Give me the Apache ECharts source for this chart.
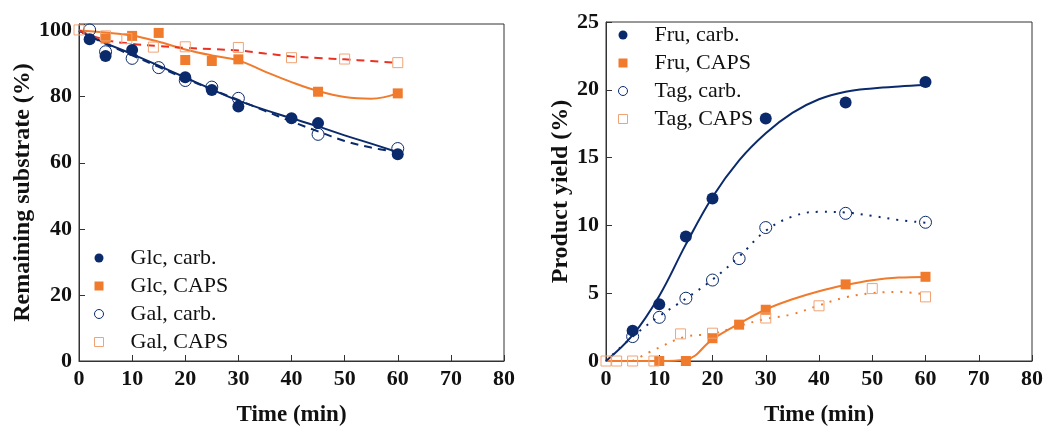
<!DOCTYPE html>
<html>
<head>
<meta charset="utf-8">
<script src="https://cdn.jsdelivr.net/npm/echarts@6/dist/echarts.min.js"></script>
<style>
  html, body { margin: 0; padding: 0; background: #fff; }
  #chart { width: 1046px; height: 432px; }
</style>
</head>
<body>
<div id="chart"></div>
<script>
// measured points, left panel (remaining substrate %)
const glcCarb = [[2, 97.4], [5, 92.3], [10, 94.1], [20, 85.9], [25, 82.0], [30, 77.0], [40, 73.5], [45, 72.0], [60, 62.6]];
const glcCaps = [[5, 97.6], [10, 98.4], [15, 99.3], [20, 91.1], [25, 90.8], [30, 91.3], [45, 81.5], [60, 81.0]];
const galCarb = [[2, 100.2], [5, 93.6], [10, 91.6], [15, 88.8], [20, 84.9], [25, 82.9], [30, 79.5], [45, 68.6], [60, 64.3]];
const galCaps = [[0, 100.2], [5, 98.4], [9, 97.6], [14, 95.0], [20, 95.1], [30, 94.9], [40, 91.8], [50, 91.4], [60, 90.3]];

// fitted trend lines
const glcCarbFit = [[0, 100], [5, 96.2], [10, 92.9], [15, 89.4], [20, 85.8], [25, 82.2], [30, 78.8], [35, 76.0], [40, 73.5], [45, 71.0], [50, 68.3], [55, 65.8], [60, 63.2]];
const glcCapsFit = [[0, 100], [5, 99.4], [10, 98.5], [15, 96.6], [20, 94.3], [25, 92.5], [30, 91.0], [35, 87.6], [40, 84.4], [45, 81.7], [50, 79.9], [55, 79.4], [60, 81.0]];
const galCarbFit = [[0, 100], [5, 96.0], [10, 92.5], [15, 89.0], [20, 85.5], [25, 82.2], [30, 79.0], [35, 75.7], [40, 72.5], [45, 69.5], [50, 66.6], [55, 64.6], [60, 63.2]];
const galCapsFit = [[0, 100], [5, 97.2], [10, 96.0], [15, 95.3], [20, 94.8], [25, 94.4], [30, 94.0], [35, 93.1], [40, 92.2], [45, 91.7], [50, 91.3], [55, 90.8], [60, 90.2]];

// measured points, right panel (product yield %)
const fruCarb = [[5, 2.24], [10, 4.19], [15, 9.19], [20, 11.99], [30, 17.89], [45, 19.06], [60, 20.57]];
const fruCaps = [[10, 0], [15, 0], [20, 1.68], [25, 2.68], [30, 3.78], [45, 5.65], [60, 6.21]];
const tagCarb = [[5, 1.80], [10, 3.22], [15, 4.63], [20, 5.97], [25, 7.55], [30, 9.84], [45, 10.89], [60, 10.23]];
const tagCaps = [[0, 0], [2, 0], [5, 0], [9, 0], [14, 2.0], [20, 2.05], [30, 3.17], [40, 4.07], [50, 5.34], [60, 4.73]];

// fitted trend lines
const fruCarbFit = [[0, 0], [5, 1.9], [10, 4.8], [15, 8.6], [20, 12.1], [25, 14.8], [30, 16.8], [35, 18.3], [40, 19.3], [45, 19.85], [50, 20.1], [55, 20.25], [60, 20.35]];
const fruCapsFit = [[0, 0], [5, 0], [10, 0], [15, 0.1], [20, 1.6], [25, 2.75], [30, 3.8], [35, 4.55], [40, 5.15], [45, 5.6], [50, 5.95], [55, 6.15], [60, 6.2]];
const tagCarbFit = [[0, 0], [5, 1.8], [10, 3.3], [15, 4.6], [20, 6.0], [25, 7.7], [30, 9.6], [35, 10.65], [40, 11.0], [45, 10.95], [50, 10.7], [55, 10.4], [60, 10.2]];
const tagCapsFit = [[5, 0], [10, 1.0], [15, 1.8], [20, 2.0], [25, 2.6], [30, 3.1], [35, 3.45], [40, 4.1], [45, 4.7], [50, 5.0], [55, 5.1], [60, 4.9]];

const leftNames = ["Glc, carb.", "Glc, CAPS", "Gal, carb.", "Gal, CAPS"];
const rightNames = ["Fru, carb.", "Fru, CAPS", "Tag, carb.", "Tag, CAPS"];
const xTicks = [0, 10, 20, 30, 40, 50, 60, 70, 80];
const leftYTicks = [0, 20, 40, 60, 80, 100];
const rightYTicks = [0, 5, 10, 15, 20, 25];

const NAVY = "#0b2a6c";
const ORANGE = "#f07b2c";
const LIGHT = "#f0a476";
const RED = "#ec3122";
const SERIF = "Liberation Serif";

const chart = echarts.init(document.getElementById("chart"));

function xAxis(idx) {
  return {
    type: "value", gridIndex: idx, min: 0, max: 80, interval: 10,
    name: "Time (min)", nameLocation: "middle", nameGap: 43,
    nameTextStyle: { fontFamily: SERIF, fontWeight: "bold", fontSize: 23, color: "#111" },
    axisLine: { lineStyle: { color: "#333", width: 1 } },
    axisTick: { inside: true, length: 6, lineStyle: { color: "#333" } },
    axisLabel: {
      margin: 7, fontFamily: SERIF, fontWeight: "bold", fontSize: 22, color: "#111",
      formatter: (v) => (xTicks.indexOf(v) >= 0 ? String(v) : ""),
    },
    splitLine: { show: false },
  };
}

function yAxis(idx, max, interval, ticks, name, gap) {
  return {
    type: "value", gridIndex: idx, min: 0, max: max, interval: interval,
    name: name, nameLocation: "middle", nameGap: gap,
    nameTextStyle: { fontFamily: SERIF, fontWeight: "bold", fontSize: 24, color: "#111" },
    axisLine: { lineStyle: { color: "#333", width: 1 } },
    axisTick: { inside: true, length: 6, lineStyle: { color: "#333" } },
    axisLabel: {
      margin: 7, fontFamily: SERIF, fontWeight: "bold", fontSize: 22, color: "#111",
      formatter: (v) => (ticks.indexOf(v) >= 0 ? String(v) : ""),
    },
    splitLine: { show: false },
  };
}

function fit(idx, data, color, type, width) {
  return {
    type: "line", xAxisIndex: idx, yAxisIndex: idx, data: data,
    smooth: 0.4, showSymbol: false, silent: true, z: 1,
    lineStyle: { color: color, width: width, type: type },
  };
}

function dots(idx, name, data, symbol, size, style) {
  return {
    type: "scatter", name: name, xAxisIndex: idx, yAxisIndex: idx, data: data,
    symbol: symbol, symbolSize: size, clip: false, z: 3, itemStyle: style,
  };
}

const filledNavy = { color: NAVY, opacity: 1 };
const filledOrange = { color: ORANGE, opacity: 1 };
const openNavy = { color: "transparent", borderColor: NAVY, borderWidth: 1, opacity: 1 };
const openOrange = { color: "transparent", borderColor: LIGHT, borderWidth: 1, opacity: 1 };
const styles = [filledNavy, filledOrange, openNavy, openOrange];
const icons = ["circle", "rect", "circle", "rect"];

function legend(names, left, top) {
  return {
    orient: "vertical", left: left, top: top, padding: 0,
    itemWidth: 9, itemHeight: 9, itemGap: 6,
    textStyle: {
      fontFamily: SERIF, fontSize: 22, color: "#111", lineHeight: 22,
      padding: [0, 0, 0, 22],
    },
    data: names.map((n, i) => ({ name: n, icon: icons[i], itemStyle: styles[i] })),
  };
}

const option = {
  animation: false,
  backgroundColor: "#fff",
  grid: [
    { left: 79, right: 542, top: 24, bottom: 68, show: true, borderColor: "#333", borderWidth: 1 },
    { left: 606, right: 14, top: 22, bottom: 68, show: true, borderColor: "#333", borderWidth: 1 },
  ],
  legend: [legend(leftNames, 94, 247), legend(rightNames, 618, 24)],
  xAxis: [xAxis(0), xAxis(1)],
  yAxis: [
    yAxis(0, 102, 20, leftYTicks, "Remaining substrate (%)", 44),
    yAxis(1, 25, 5, rightYTicks, "Product yield (%)", 32),
  ],
  series: [
    fit(0, glcCarbFit, NAVY, "solid", 2),
    fit(0, glcCapsFit, ORANGE, "solid", 2),
    fit(0, galCarbFit, NAVY, [8, 6], 2),
    fit(0, galCapsFit, RED, [8, 6], 2),
    dots(0, leftNames[0], glcCarb, "circle", 12, filledNavy),
    dots(0, leftNames[1], glcCaps, "rect", 10, filledOrange),
    dots(0, leftNames[2], galCarb, "circle", 12, openNavy),
    dots(0, leftNames[3], galCaps, "rect", 10, openOrange),

    fit(1, fruCarbFit, NAVY, "solid", 2),
    fit(1, fruCapsFit, ORANGE, "solid", 2),
    fit(1, tagCarbFit, NAVY, [2, 7], 2),
    fit(1, tagCapsFit, ORANGE, [2, 7], 2),
    dots(1, rightNames[0], fruCarb, "circle", 12, filledNavy),
    dots(1, rightNames[1], fruCaps, "rect", 10, filledOrange),
    dots(1, rightNames[2], tagCarb, "circle", 12, openNavy),
    dots(1, rightNames[3], tagCaps, "rect", 10, openOrange),
  ],
};

chart.setOption(option);
</script>
</body>
</html>
